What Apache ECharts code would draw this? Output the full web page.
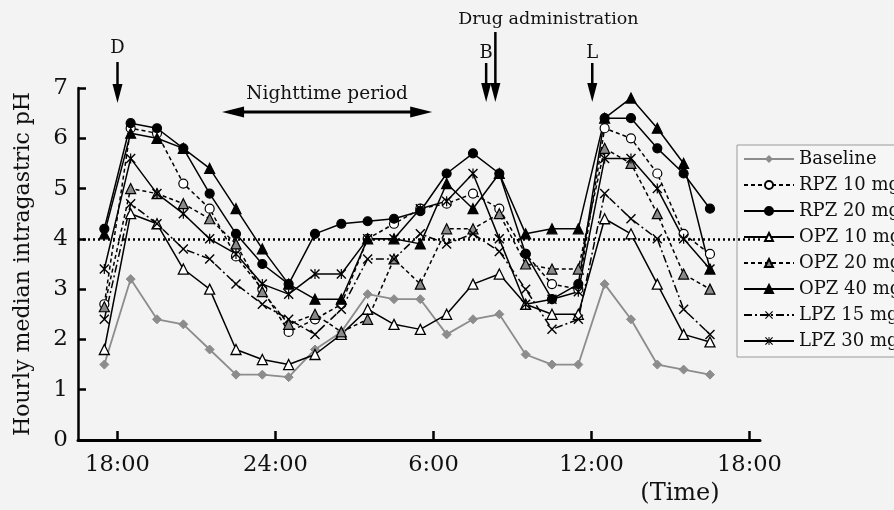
<!DOCTYPE html>
<html><head><meta charset="utf-8">
<script src="https://cdn.jsdelivr.net/npm/echarts@6/dist/echarts.min.js"></script>
<style>html,body{margin:0;padding:0;background:#f3f3f3}#c{width:894px;height:510px}</style>
</head><body><div id="c"></div>
<script>
// hours after 18:00 (mid-point of each hourly interval)
const hours = [-0.5,0.5,1.5,2.5,3.5,4.5,5.5,6.5,7.5,8.5,9.5,10.5,11.5,12.5,13.5,14.5,15.5,16.5,17.5,18.5,19.5,20.5,21.5,22.5];
const tickHours = [0,6,12,18,24];
const tickLabels = ['18:00','24:00','6:00','12:00','18:00'];
const seriesNames = ['Baseline','RPZ 10 mg','RPZ 20 mg','OPZ 10 mg','OPZ 20 mg','OPZ 40 mg','LPZ 15 mg','LPZ 30 mg'];
const baseline = [1.5,3.2,2.4,2.3,1.8,1.3,1.3,1.25,1.8,2.15,2.9,2.8,2.8,2.1,2.4,2.5,1.7,1.5,1.5,3.1,2.4,1.5,1.4,1.3];
const rpz10 = [2.7,6.2,6.1,5.1,4.6,3.65,3.0,2.15,2.4,2.7,4.0,4.3,4.6,4.7,4.9,4.6,3.7,3.1,3.0,6.2,6.0,5.3,4.1,3.7];
const rpz20 = [4.2,6.3,6.2,5.8,4.9,4.1,3.5,3.1,4.1,4.3,4.35,4.4,4.55,5.3,5.7,5.3,3.7,2.8,3.1,6.4,6.4,5.8,5.3,4.6];
const opz10 = [1.8,4.5,4.3,3.4,3.0,1.8,1.6,1.5,1.7,2.1,2.6,2.3,2.2,2.5,3.1,3.3,2.7,2.5,2.5,4.4,4.1,3.1,2.1,1.95];
const opz20 = [2.65,5.0,4.9,4.7,4.4,3.9,2.95,2.3,2.5,2.15,2.4,3.6,3.1,4.2,4.2,4.5,3.5,3.4,3.4,5.8,5.5,4.5,3.3,3.0];
const opz40 = [4.1,6.1,6.0,5.8,5.4,4.6,3.8,3.1,2.8,2.8,4.0,4.0,3.9,5.1,4.6,5.3,4.1,4.2,4.2,6.4,6.8,6.2,5.5,3.4];
const lpz15 = [2.4,4.7,4.3,3.8,3.6,3.1,2.7,2.4,2.1,2.6,3.6,3.6,4.1,3.9,4.1,3.75,3.0,2.2,2.4,4.9,4.4,4.0,2.6,2.1];
const lpz30 = [3.4,5.6,4.9,4.5,4.0,3.7,3.1,2.9,3.3,3.3,4.0,4.0,4.6,4.75,5.3,4.0,2.7,2.8,2.95,5.6,5.6,5.0,4.0,3.4];
const threshold = 4;
// annotation positions (hours after 18:00)
const doseD = 0, doseB = 14.0, doseDrug = 14.35, doseL = 18.03;
const nightStart = 3.97, nightEnd = 11.95;

const FONT = '"DejaVu Serif", serif';
const X_PATH = 'path://M0,1 L1,0 L5,4 L9,0 L10,1 L6,5 L10,9 L9,10 L5,6 L1,10 L0,9 L4,5 Z';
const STAR_PATH = 'path://M0,1 L1,0 L5,4 L9,0 L10,1 L6,5 L10,9 L9,10 L5,6 L1,10 L0,9 L4,5 Z M4.4,0 L5.6,0 L5.6,10 L4.4,10 Z';

const pts = vals => hours.map((h, i) => [h, vals[i]]);
function mk(name, vals, opt) {
  return Object.assign({
    name, type: 'line', data: pts(vals), symbolSize: 9,
    lineStyle: { color: '#000', width: 1.5, type: 'solid' },
    itemStyle: { color: '#000', borderColor: '#000', borderWidth: 1.2 },
    emphasis: { disabled: true }, z: 3
  }, opt);
}

const chart = echarts.init(document.getElementById('c'), null, { renderer: 'canvas' });
const option = {
  animation: false,
  backgroundColor: '#f3f3f3',
  textStyle: { fontFamily: FONT },
  grid: { left: 78, right: 134, top: 88, bottom: 70, outerBoundsMode: 'none' },
  legend: {
    data: seriesNames, orient: 'vertical', left: 737, top: 145,
    padding: [4, 8, 6, 6], itemWidth: 50, itemHeight: 10, itemGap: 6,
    backgroundColor: '#f6f6f6', borderColor: '#9a9a9a', borderWidth: 1, borderRadius: 0,
    textStyle: { fontFamily: FONT, fontSize: 18, color: '#111', lineHeight: 20 },
    selectedMode: false
  },
  xAxis: {
    type: 'value', min: -1.5, max: 24.4,
    axisLine: { show: true, onZero: false, lineStyle: { color: '#000', width: 3 } },
    axisTick: { show: true, inside: true, length: 9, customValues: tickHours, lineStyle: { color: '#000', width: 2.5 } },
    axisLabel: { customValues: tickHours, margin: 14, fontSize: 22.5, color: '#111', fontFamily: FONT,
      formatter: v => tickLabels[tickHours.indexOf(v)] },
    splitLine: { show: false }
  },
  yAxis: {
    type: 'value', min: 0, max: 7, interval: 1,
    name: 'Hourly median intragastric pH', nameLocation: 'middle', nameGap: 44,
    nameTextStyle: { fontSize: 22, color: '#111', fontFamily: FONT },
    axisLine: { show: true, onZero: false, lineStyle: { color: '#000', width: 2.5 } },
    axisTick: { show: true, inside: true, length: 8, lineStyle: { color: '#000', width: 2.5 } },
    axisLabel: { margin: 10, fontSize: 23, color: '#111', fontFamily: FONT },
    splitLine: { show: false }
  },
  series: [
    mk(seriesNames[0], baseline, { symbol: 'diamond', symbolSize: 9,
      lineStyle: { color: '#8c8c8c', width: 1.8 }, itemStyle: { color: '#8c8c8c', borderColor: '#8c8c8c' },
      markLine: { silent: true, symbol: 'none', label: { show: false },
        lineStyle: { color: '#000', width: 2.5, type: [2, 3] }, data: [{ yAxis: threshold }] } }),
    mk(seriesNames[1], rpz10, { symbol: 'circle', lineStyle: { color: '#000', width: 1.5, type: [4, 3] },
      itemStyle: { color: '#fff', borderColor: '#000', borderWidth: 1.2 } }),
    mk(seriesNames[2], rpz20, { symbol: 'circle', symbolSize: 9 }),
    mk(seriesNames[3], opz10, { symbol: 'triangle', symbolSize: 10,
      itemStyle: { color: '#fff', borderColor: '#000', borderWidth: 1.3 } }),
    mk(seriesNames[4], opz20, { symbol: 'triangle', symbolSize: 10, lineStyle: { color: '#000', width: 1.5, type: [4, 3] },
      itemStyle: { color: '#8a8a8a', borderColor: '#000', borderWidth: 1.2 } }),
    mk(seriesNames[5], opz40, { symbol: 'triangle', symbolSize: 10 }),
    mk(seriesNames[6], lpz15, { symbol: X_PATH, symbolSize: 10, lineStyle: { color: '#000', width: 1.5, type: [8, 3, 2, 3] },
      itemStyle: { color: '#000', borderWidth: 0 } }),
    mk(seriesNames[7], lpz30, { symbol: STAR_PATH, symbolSize: 10, itemStyle: { color: '#000', borderWidth: 0 } })
  ]
};
chart.setOption(option);

const xp = h => chart.convertToPixel({ xAxisIndex: 0 }, h);
function downArrow(x, yTop, yTip) {
  return [
    { type: 'line', shape: { x1: x, y1: yTop, x2: x, y2: yTip - 12 }, style: { stroke: '#000', lineWidth: 2.5 }, z: 10 },
    { type: 'polygon', shape: { points: [[x - 5, yTip - 19], [x + 5, yTip - 19], [x, yTip]] }, style: { fill: '#000' }, z: 10 }
  ];
}
function txt(text, x, y, size) {
  return { type: 'text', x, y, z: 10, style: { text, font: size + 'px ' + FONT, fill: '#111', align: 'center', verticalAlign: 'middle' } };
}
const nx1 = xp(nightStart), nx2 = xp(nightEnd), ny = 112;
const g = [].concat(
  [txt('D', xp(doseD), 48, 18)], downArrow(xp(doseD), 62, 103),
  [txt('B', xp(doseB), 53, 18)], downArrow(xp(doseB), 63, 102),
  downArrow(xp(doseDrug), 32, 102),
  [txt('Drug administration', xp(doseDrug) + 53, 19, 17.5)],
  [txt('L', xp(doseL), 53, 18)], downArrow(xp(doseL), 63, 102),
  [txt('Nighttime period', (nx1 + nx2) / 2, 94, 18.5)],
  [
    { type: 'line', shape: { x1: nx1 + 15, y1: ny, x2: nx2 - 15, y2: ny }, style: { stroke: '#000', lineWidth: 3 }, z: 10 },
    { type: 'polygon', shape: { points: [[nx1, ny], [nx1 + 22, ny - 5.5], [nx1 + 22, ny + 5.5]] }, style: { fill: '#000' }, z: 10 },
    { type: 'polygon', shape: { points: [[nx2, ny], [nx2 - 22, ny - 5.5], [nx2 - 22, ny + 5.5]] }, style: { fill: '#000' }, z: 10 }
  ],
  [txt('(Time)', 680, 494, 24)]
);
chart.setOption({ graphic: g });
</script></body></html>
